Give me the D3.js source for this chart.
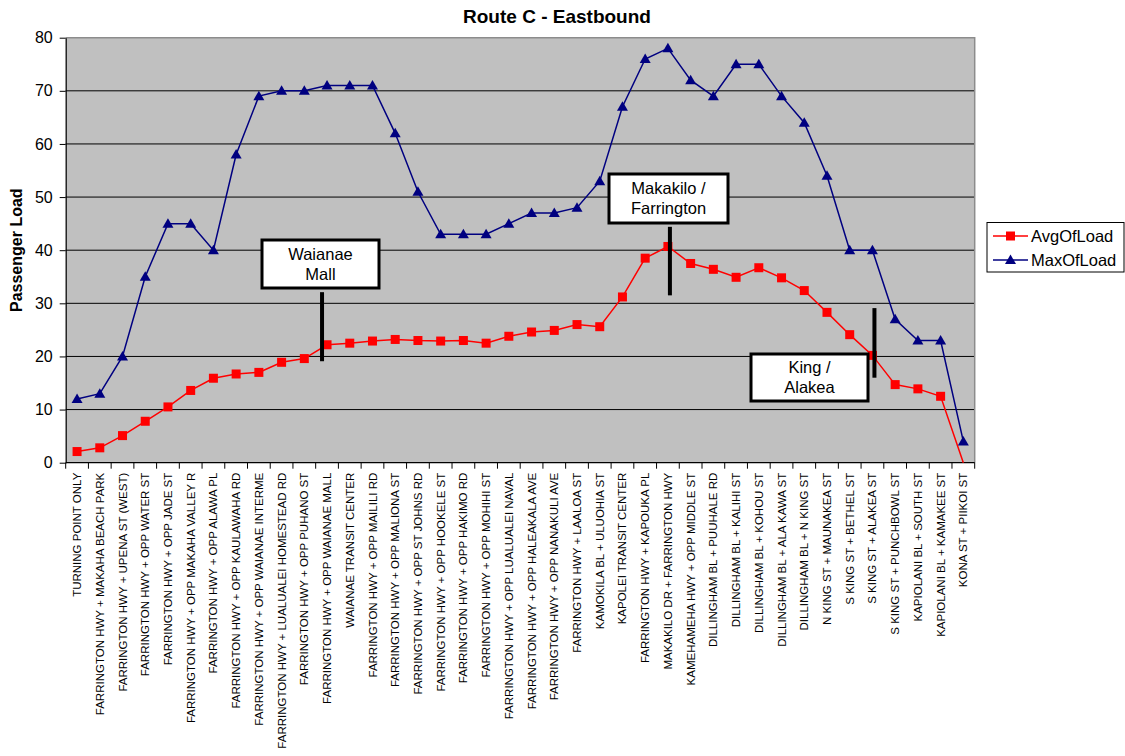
<!DOCTYPE html>
<html>
<head>
<meta charset="utf-8">
<script src="https://cdn.jsdelivr.net/npm/d3@7"></script>
<style>
  html, body { margin: 0; padding: 0; background: #fff; }
  svg { display: block; font-family: "Liberation Sans", Arial, sans-serif; }
</style>
</head>
<body>
<svg id="chart" width="1125" height="756"></svg>
<script>
// Stops along Route C, eastbound, in order of service
const stops = [
  "TURNING POINT ONLY",
  "FARRINGTON HWY + MAKAHA BEACH PARK",
  "FARRINGTON HWY + UPENA ST (WEST)",
  "FARRINGTON HWY + OPP WATER ST",
  "FARRINGTON HWY + OPP JADE ST",
  "FARRINGTON HWY + OPP MAKAHA VALLEY R",
  "FARRINGTON HWY + OPP ALAWA PL",
  "FARRINGTON HWY + OPP KAULAWAHA RD",
  "FARRINGTON HWY + OPP WAIANAE INTERME",
  "FARRINGTON HWY + LUALUALEI HOMESTEAD RD",
  "FARRINGTON HWY + OPP PUHANO ST",
  "FARRINGTON HWY + OPP WAIANAE MALL",
  "WAIANAE TRANSIT CENTER",
  "FARRINGTON HWY + OPP MAILILI RD",
  "FARRINGTON HWY + OPP MALIONA ST",
  "FARRINGTON HWY + OPP ST JOHNS RD",
  "FARRINGTON HWY + OPP HOOKELE ST",
  "FARRINGTON HWY + OPP HAKIMO RD",
  "FARRINGTON HWY + OPP MOHIHI ST",
  "FARRINGTON HWY + OPP LUALUALEI NAVAL",
  "FARRINGTON HWY + OPP HALEAKALA AVE",
  "FARRINGTON HWY + OPP NANAKULI AVE",
  "FARRINGTON HWY + LAALOA ST",
  "KAMOKILA BL + ULUOHIA ST",
  "KAPOLEI TRANSIT CENTER",
  "FARRINGTON HWY + KAPOUKA PL",
  "MAKAKILO DR + FARRINGTON HWY",
  "KAMEHAMEHA HWY + OPP MIDDLE ST",
  "DILLINGHAM BL + PUUHALE RD",
  "DILLINGHAM BL + KALIHI ST",
  "DILLINGHAM BL + KOHOU ST",
  "DILLINGHAM BL + ALA KAWA ST",
  "DILLINGHAM BL + N KING ST",
  "N KING ST + MAUNAKEA ST",
  "S KING ST + BETHEL ST",
  "S KING ST + ALAKEA ST",
  "S KING ST + PUNCHBOWL ST",
  "KAPIOLANI BL + SOUTH ST",
  "KAPIOLANI BL + KAMAKEE ST",
  "KONA ST + PIIKOI ST"
];

// Average passenger load leaving each stop
const avgOfLoad = [
  2.1, 2.8, 5.1, 7.8, 10.5, 13.6, 15.9, 16.7, 17.0, 18.9,
  19.6, 22.2, 22.5, 22.9, 23.2, 23.0, 22.9, 23.0, 22.5, 23.8,
  24.6, 24.9, 26.0, 25.6, 31.2, 38.5, 40.7, 37.5, 36.4, 34.9,
  36.7, 34.8, 32.4, 28.3, 24.1, 20.2, 14.7, 13.9, 12.5, 0
];

// Maximum passenger load leaving each stop
const maxOfLoad = [
  12, 13, 20, 35, 45, 45, 40, 58, 69, 70,
  70, 71, 71, 71, 62, 51, 43, 43, 43, 45,
  47, 47, 48, 53, 67, 76, 78, 72, 69, 75,
  75, 69, 64, 54, 40, 40, 27, 23, 23, 4
];

const yTicks = [0, 10, 20, 30, 40, 50, 60, 70, 80];
const seriesNames = ["AvgOfLoad", "MaxOfLoad"];

// Callouts marking key points along the route
const callouts = [
  { lines: ["Waianae", "Mall"],         stop: 11, shift: -5, barFrom: 19.1, barTo: 32.1, box: [262, 240, 117, 48] },
  { lines: ["Makakilo /", "Farrington"], stop: 26, shift: 2,  barFrom: 31.5, barTo: 44.4, box: [609, 174, 119, 49] },
  { lines: ["King /", "Alakea"],         stop: 35, shift: 2,  barFrom: 16.0, barTo: 29.1, box: [751, 354, 117, 47] }
];

const svg = d3.select("#chart");
const plot = { left: 65.7, right: 974.7, top: 37.7, bottom: 462.7 };

const x = d3.scaleBand().domain(stops).range([plot.left, plot.right]).paddingInner(0).paddingOuter(0);
const cx = name => x(name) + x.bandwidth() / 2;
const y = d3.scaleLinear().domain([0, 80]).range([plot.bottom, plot.top]);

// Plot background
svg.append("rect")
  .attr("x", plot.left).attr("y", plot.top)
  .attr("width", plot.right - plot.left).attr("height", plot.bottom - plot.top)
  .attr("fill", "#c0c0c0");

// Horizontal gridlines
svg.append("g")
  .selectAll("line")
  .data(yTicks.filter(t => t > 0 && t < 80))
  .join("line")
  .attr("x1", plot.left).attr("x2", plot.right)
  .attr("y1", d => y(d)).attr("y2", d => y(d))
  .attr("stroke", "#000").attr("stroke-width", 1);

// Top and right frame
svg.append("path")
  .attr("d", `M${plot.left},${plot.top}H${plot.right}V${plot.bottom}`)
  .attr("fill", "none").attr("stroke", "#8c8c8c").attr("stroke-width", 1.5);

// Y axis
const yAxis = svg.append("g")
  .attr("transform", `translate(${plot.left},0)`)
  .call(d3.axisLeft(y).tickValues(yTicks).tickSize(6).tickPadding(7).tickSizeOuter(0));
yAxis.select(".domain").attr("stroke", "#000").attr("stroke-width", 1.2);
yAxis.selectAll(".tick line").attr("stroke", "#000");
yAxis.selectAll(".tick text")
  .attr("font-family", "Liberation Sans, Arial, sans-serif")
  .attr("font-size", 16).attr("fill", "#000");

// X axis: tick marks sit between stops
const xAxisG = svg.append("g").attr("transform", `translate(0,${plot.bottom})`);
xAxisG.append("line")
  .attr("x1", plot.left).attr("x2", plot.right)
  .attr("stroke", "#000").attr("stroke-width", 1.2);
xAxisG.selectAll("line.tick")
  .data(stops.concat([null]))
  .join("line")
  .attr("class", "tick")
  .attr("x1", (d, i) => i < stops.length ? x(d) : plot.right)
  .attr("x2", (d, i) => i < stops.length ? x(d) : plot.right)
  .attr("y1", 0).attr("y2", 6)
  .attr("stroke", "#000");
xAxisG.selectAll("text")
  .data(stops)
  .join("text")
  .attr("transform", d => `translate(${cx(d)},10) rotate(-90)`)
  .attr("text-anchor", "end")
  .attr("dy", "0.35em")
  .attr("font-size", 11.5)
  .attr("fill", "#000")
  .text(d => d);

// Series lines
const lineGen = d3.line().x((d, i) => cx(stops[i])).y(d => y(d));

svg.append("path")
  .datum(avgOfLoad)
  .attr("d", lineGen)
  .attr("fill", "none").attr("stroke", "#ff0000").attr("stroke-width", 1.5);

svg.append("path")
  .datum(maxOfLoad)
  .attr("d", lineGen)
  .attr("fill", "none").attr("stroke", "#000080").attr("stroke-width", 1.5);

// Markers (stops with zero load are drawn without a marker)
const squareSize = 9;
svg.append("g")
  .selectAll("rect")
  .data(avgOfLoad.map((v, i) => ({ v, i })).filter(d => d.v > 0))
  .join("rect")
  .attr("x", d => cx(stops[d.i]) - squareSize / 2)
  .attr("y", d => y(d.v) - squareSize / 2)
  .attr("width", squareSize).attr("height", squareSize)
  .attr("fill", "#ff0000");

const triangle = "M0,-5.5L5.5,4L-5.5,4Z";
svg.append("g")
  .selectAll("path")
  .data(maxOfLoad.map((v, i) => ({ v, i })).filter(d => d.v > 0))
  .join("path")
  .attr("transform", d => `translate(${cx(stops[d.i])},${y(d.v)})`)
  .attr("d", triangle)
  .attr("fill", "#000080");

// Callouts
const cg = svg.append("g");
callouts.forEach(c => {
  const bx = cx(stops[c.stop]) + c.shift;
  cg.append("line")
    .attr("x1", bx).attr("x2", bx)
    .attr("y1", y(c.barTo)).attr("y2", y(c.barFrom))
    .attr("stroke", "#000").attr("stroke-width", 4);
  const [bx0, by0, bw, bh] = c.box;
  cg.append("rect")
    .attr("x", bx0).attr("y", by0).attr("width", bw).attr("height", bh)
    .attr("fill", "#fff").attr("stroke", "#000").attr("stroke-width", 3);
  cg.append("text")
    .attr("x", bx0 + bw / 2).attr("y", by0 + bh / 2 - 10)
    .attr("text-anchor", "middle").attr("dy", "0.35em")
    .attr("font-size", 16.5).attr("fill", "#000")
    .selectAll("tspan")
    .data(c.lines)
    .join("tspan")
    .attr("x", bx0 + bw / 2)
    .attr("dy", (d, i) => i === 0 ? "0.35em" : "20")
    .text(d => d);
});

// Title
svg.append("text")
  .attr("x", 557).attr("y", 23)
  .attr("text-anchor", "middle")
  .attr("font-size", 19).attr("font-weight", "bold")
  .text("Route C - Eastbound");

// Y axis title
svg.append("text")
  .attr("transform", `translate(22,${(plot.top + plot.bottom) / 2}) rotate(-90)`)
  .attr("text-anchor", "middle")
  .attr("font-size", 16).attr("font-weight", "bold")
  .text("Passenger Load");

// Legend
const legend = svg.append("g");
legend.append("rect")
  .attr("x", 987).attr("y", 222.5).attr("width", 137).attr("height", 49.5)
  .attr("fill", "#fff").attr("stroke", "#000").attr("stroke-width", 1);
const legendRows = [
  { name: seriesNames[0], color: "#ff0000", marker: "square", cy: 236 },
  { name: seriesNames[1], color: "#000080", marker: "triangle", cy: 260 }
];
legendRows.forEach(r => {
  legend.append("line")
    .attr("x1", 993).attr("x2", 1028)
    .attr("y1", r.cy).attr("y2", r.cy)
    .attr("stroke", r.color).attr("stroke-width", 1.5);
  if (r.marker === "square") {
    legend.append("rect")
      .attr("x", 1010.5 - squareSize / 2).attr("y", r.cy - squareSize / 2)
      .attr("width", squareSize).attr("height", squareSize)
      .attr("fill", r.color);
  } else {
    legend.append("path")
      .attr("transform", `translate(1010.5,${r.cy})`)
      .attr("d", triangle).attr("fill", r.color);
  }
  legend.append("text")
    .attr("x", 1031).attr("y", r.cy).attr("dy", "0.35em")
    .attr("font-size", 16.5).attr("fill", "#000")
    .text(r.name);
});
</script>
</body>
</html>
